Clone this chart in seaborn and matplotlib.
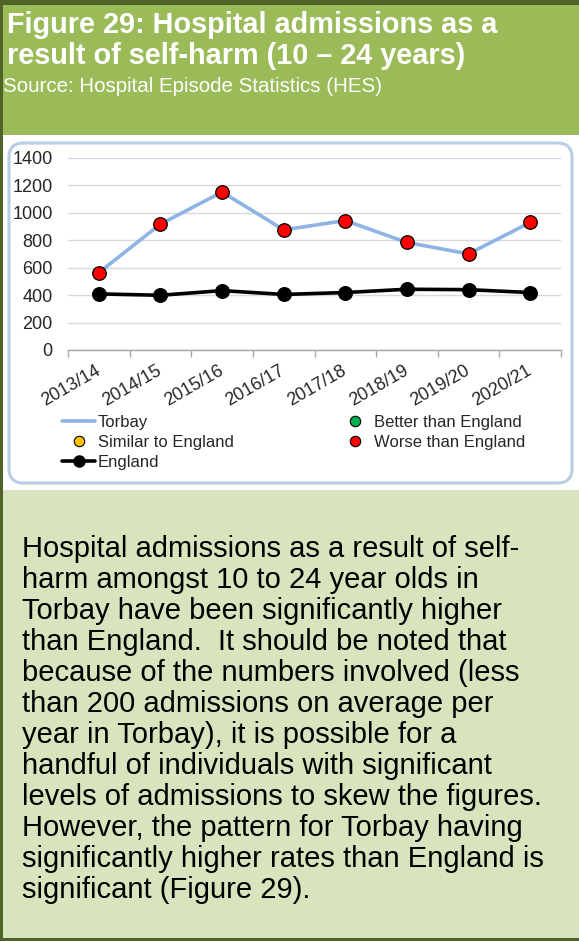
import matplotlib
matplotlib.use("Agg")
import matplotlib.pyplot as plt
import seaborn as sns
import pandas as pd
from matplotlib.patches import Rectangle, FancyBboxPatch
from matplotlib.lines import Line2D

# Data
years = ["2013/14", "2014/15", "2015/16", "2016/17",
         "2017/18", "2018/19", "2019/20", "2020/21"]
torbay = [564, 918, 1152, 876, 944, 784, 701, 930]
england = [409, 399, 433, 405, 419, 443, 440, 419]
y_ticks = [0, 200, 400, 600, 800, 1000, 1200, 1400]

title_lines = ["Figure 29: Hospital admissions as a",
               "result of self-harm (10 \u2013 24 years)"]
source_text = "Source: Hospital Episode Statistics (HES)"
body_lines = [
    "Hospital admissions as a result of self-",
    "harm amongst 10 to 24 year olds in",
    "Torbay have been significantly higher",
    "than England.  It should be noted that",
    "because of the numbers involved (less",
    "than 200 admissions on average per",
    "year in Torbay), it is possible for a",
    "handful of individuals with significant",
    "levels of admissions to skew the figures.",
    "However, the pattern for Torbay having",
    "significantly higher rates than England is",
    "significant (Figure 29).",
]

df = pd.DataFrame({"year": years, "Torbay": torbay, "England": england})

sns.set_theme(style="white")
plt.rcParams["font.family"] = ["Liberation Sans", "DejaVu Sans"]

W, H = 579, 941
fig = plt.figure(figsize=(W / 100, H / 100), dpi=100)

def box(x0, y0, x1, y1, color):
    # pixel coords measured from top-left
    fig.patches.append(Rectangle((x0 / W, 1 - y1 / H), (x1 - x0) / W, (y1 - y0) / H,
                                 transform=fig.transFigure, facecolor=color,
                                 edgecolor="none", zorder=0))

box(0, 0, W, H, "#4F6228")
box(3, 5, W, 938, "white")
box(3, 5, W, 135, "#9BBB59")
box(3, 490, W, 938, "#D7E4BD")

fig.patches.append(FancyBboxPatch((9 / W, 1 - 483 / H), 563 / W, 340 / H,
                                  boxstyle="round,pad=0,rounding_size=0.025",
                                  transform=fig.transFigure, facecolor="white",
                                  edgecolor="#B9CDE5", linewidth=2.2, zorder=1,
                                  mutation_aspect=W / H))

# Header text
fig.text(7 / W, 1 - 33 / H, title_lines[0], color="white", fontsize=20.8,
         fontweight="bold", va="baseline", ha="left")
fig.text(7 / W, 1 - 64 / H, title_lines[1], color="white", fontsize=20.8,
         fontweight="bold", va="baseline", ha="left")
fig.text(3 / W, 1 - 92 / H, source_text, color="white", fontsize=14.8,
         va="baseline", ha="left")

# Chart
ax = fig.add_axes([68 / W, 1 - 350 / H, (561 - 68) / W, (350 - 158) / H])
ax.set_zorder(2)
ax.patch.set_alpha(0)

sns.lineplot(data=df, x="year", y="Torbay", ax=ax, color="#8EB4E3",
             linewidth=2.6, sort=False, zorder=2)
sns.lineplot(data=df, x="year", y="England", ax=ax, color="black",
             linewidth=2.6, marker="o", markersize=10, markeredgecolor="black",
             sort=False, zorder=3)
sns.scatterplot(data=df, x="year", y="Torbay", ax=ax, color="#FF0000",
                edgecolor="black", linewidth=0.9, s=95, zorder=4)

ax.set_xlim(-0.5, len(years) - 0.5)
ax.set_ylim(0, 1400)
ax.set_yticks(y_ticks)
ax.yaxis.grid(True, color="#D9D9D9", linewidth=1)
ax.set_axisbelow(True)
ax.set_xlabel("")
ax.set_ylabel("")
for s in ["top", "right", "left"]:
    ax.spines[s].set_visible(False)
ax.spines["bottom"].set_color("#A6A6A6")
ax.spines["bottom"].set_linewidth(1)

ax.set_xticks(range(len(years)))
ax.set_xticklabels(years, rotation=30, ha="right", va="center",
                   rotation_mode="anchor", fontsize=13)
ax.set_xticks([i - 0.5 for i in range(len(years) + 1)], minor=True)
ax.tick_params(axis="x", which="major", length=0, pad=14)
ax.tick_params(axis="x", which="minor", length=5, color="#A6A6A6", width=1,
               direction="out", bottom=True)
ax.tick_params(axis="y", length=0, labelsize=13, pad=11)

def dot(color):
    return Line2D([], [], linestyle="none", marker="o", markersize=7.5,
                  markerfacecolor=color, markeredgecolor="black", markeredgewidth=0.8)

left_handles = [Line2D([], [], color="#8EB4E3", linewidth=2.6), dot("#FFC000"),
                Line2D([], [], color="black", linewidth=2.6, marker="o", markersize=8)]
left_labels = ["Torbay", "Similar to England", "England"]
right_handles = [dot("#00B050"), dot("#FF0000")]
right_labels = ["Better than England", "Worse than England"]

leg_kw = dict(frameon=False, fontsize=12, loc="upper left", handlelength=2.0,
              handletextpad=0.15, labelspacing=0.3, borderaxespad=0, borderpad=0)
leg1 = fig.legend(left_handles, left_labels,
                  bbox_to_anchor=(62 / W, 1 - 415 / H), **leg_kw)
leg2 = fig.legend(right_handles, right_labels,
                  bbox_to_anchor=(338 / W, 1 - 415 / H), **leg_kw)

# Body text
for i, line in enumerate(body_lines):
    fig.text(22 / W, 1 - (557 + i * 31.0) / H, line, fontsize=21,
             va="baseline", ha="left", color="black")

fig.savefig("out.png", dpi=100)
